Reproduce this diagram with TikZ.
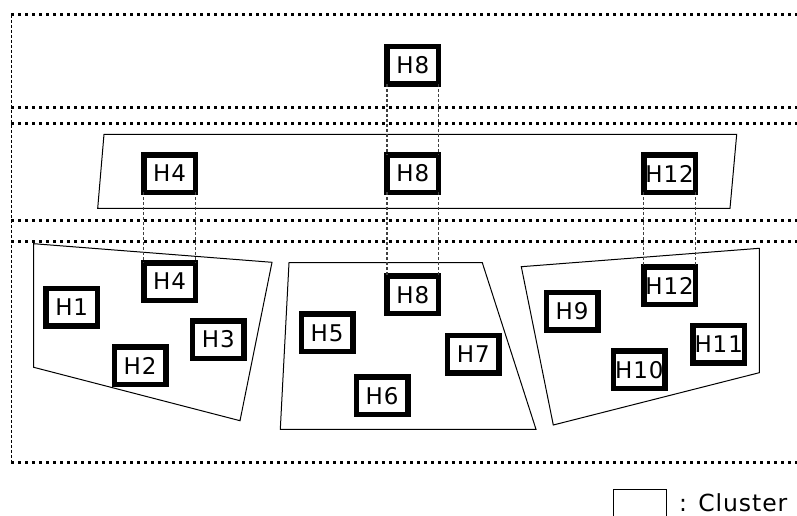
\documentclass[tikz,border=0pt]{standalone}
\usepackage{fontspec}
\setmainfont{DejaVu Sans}[LetterSpace=4]
\begin{document}
\begin{tikzpicture}[x=1pt,y=-1pt,
  host/.style={draw,line width=5.5pt,minimum width=51.5pt,minimum height=37.5pt,inner sep=0pt,outer sep=0pt,font=\fontsize{23}{27}\selectfont,fill=white},
  band/.style={line width=3pt,dash pattern=on 3pt off 4pt},
  side/.style={line width=1pt,dash pattern=on 3pt off 2pt},
  link/.style={black!75,line width=1.2pt,dash pattern=on 3pt off 2pt},
  cluster/.style={draw,line width=1pt,line join=miter}]
\clip (0,0) rectangle (797,516);
\useasboundingbox (0,0) rectangle (797,516);

% bands
\coordinate (s1) at (11,14.7);
\coordinate (s2) at (11,462);
\draw[side] (s1) -- (s2);
\foreach \yy in {14.7,107.3,123.3,220,241,462}{
  \draw[band] (11,\yy) -- (797,\yy);
}

% clusters
\draw[cluster] (104,134.3) -- (736.7,134.3) -- (730,208.3) -- (97.7,208.3) -- cycle;
\draw[cluster] (33.7,243.7) -- (272,262.3) -- (240,420.7) -- (33.7,367.3) -- cycle;
\draw[cluster] (289,262.7) -- (482.3,262.7) -- (536,429.3) -- (280.3,429.3) -- cycle;
\draw[cluster] (521.3,266.7) -- (759.3,248.3) -- (759.3,372.7) -- (553.3,425) -- cycle;

% hosts
\node[host] (H8t) at (412.8,65.5) {H8};
\node[host] (H4m) at (169.5,173.5) {H4};
\node[host] (H8m) at (412.8,173.5) {H8};
\node[host] (H12m) at (669.6,173.5) {H12};

\node[host] (H4b) at (169.5,281.5) {H4};
\node[host] (H1) at (71.7,307) {H1};
\node[host] (H2) at (140,365.7) {H2};
\node[host] (H3) at (218.3,339.5) {H3};

\node[host] (H8b) at (412.8,294.7) {H8};
\node[host] (H5) at (327,332.8) {H5};
\node[host] (H7) at (473.3,354.2) {H7};
\node[host] (H6) at (382,395.8) {H6};

\node[host] (H12b) at (669.6,285.8) {H12};
\node[host] (H9) at (572,311.2) {H9};
\node[host] (H11) at (718.7,344) {H11};
\node[host] (H10) at (639.3,369.7) {H10};

% links
\draw[link] (H8t.south west) -- (H8m.north west);
\draw[link] (H8t.south east) -- (H8m.north east);
\draw[link] (H8m.south west) -- (H8b.north west);
\draw[link] (H8m.south east) -- (H8b.north east);
\draw[link] (H4m.south west) -- (H4b.north west);
\draw[link] (H4m.south east) -- (H4b.north east);
\draw[link] (H12m.south west) -- (H12b.north west);
\draw[link] (H12m.south east) -- (H12b.north east);

% legend
\node[draw,line width=1pt,minimum width=53pt,minimum height=40pt,inner sep=0pt,anchor=north west] (leg) at (613.3,489) {};
\node[anchor=base west,inner sep=0pt,font=\fontsize{23.5}{28}\selectfont] (legt) at (679,511) {: Cluster};
\end{tikzpicture}
\end{document}
